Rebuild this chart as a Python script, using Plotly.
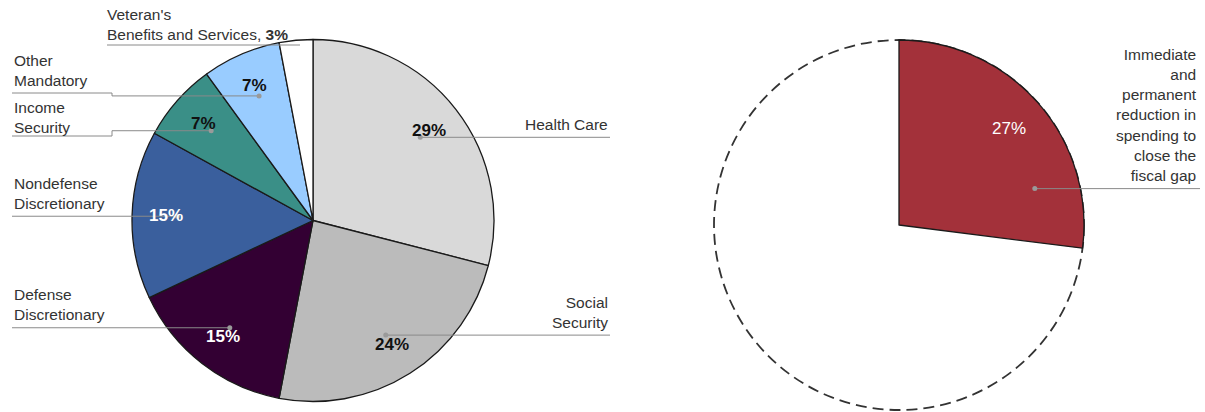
import math
import plotly.graph_objects as go

# ---------------- data ----------------
categories = ["Health Care", "Social Security", "Defense Discretionary",
              "Nondefense Discretionary", "Income Security", "Other Mandatory",
              "Veteran's Benefits and Services"]
shares = [29, 24, 15, 15, 7, 7, 3]
slice_colors = ["#D9D9D9", "#BBBBBB", "#330033", "#3A5F9D", "#3A8F87", "#99CCFF", "#FFFFFF"]
pct_text_colors = ["#111111", "#111111", "#FFFFFF", "#FFFFFF", "#111111", "#111111", None]

gap_labels = ["Immediate and permanent reduction in spending to close the fiscal gap", "Remainder"]
gap_shares = [27, 73]

W, H = 1205, 412
FONT = "Liberation Sans, Arial, sans-serif"

# pie geometry in pixels (layout)
L_CX, L_CY, L_R = 313, 220.5, 181
R_CX, R_CY, R_R = 899, 225, 185


def domain(cx, cy, r):
    return dict(x=[(cx - r) / W, (cx + r) / W], y=[(H - (cy + r)) / H, (H - (cy - r)) / H])


def polar(cx, cy, r, frac_deg):
    a = math.radians(frac_deg)
    return cx + r * math.sin(a), cy - r * math.cos(a)


def bisectors(vals):
    tot = sum(vals)
    out, c = [], 0
    for v in vals:
        out.append((c + v / 2) / tot * 360)
        c += v
    return out


fig = go.Figure()

fig.add_trace(go.Pie(
    labels=categories, values=shares, sort=False, direction="clockwise", rotation=0,
    marker=dict(colors=slice_colors, line=dict(color="#1a1a1a", width=1.3)),
    textinfo="none", hoverinfo="skip", showlegend=False,
    domain=domain(L_CX, L_CY, L_R),
))

fig.add_trace(go.Pie(
    labels=gap_labels, values=gap_shares, sort=False, direction="clockwise", rotation=0,
    marker=dict(colors=["#A3313A", "rgba(0,0,0,0)"],
                line=dict(color=["#1a1a1a", "rgba(0,0,0,0)"], width=1.3)),
    textinfo="none", hoverinfo="skip", showlegend=False,
    domain=domain(R_CX, R_CY, R_R),
))

shapes = []
annotations = []

# dashed outline of the right pie
shapes.append(dict(type="circle", xref="x", yref="y",
                   x0=R_CX - R_R, x1=R_CX + R_R, y0=R_CY - R_R, y1=R_CY + R_R,
                   line=dict(color="#333333", width=1.8, dash="11px,6px"), layer="below"))

LINE = dict(color="#8a8a8a", width=1)
DOT = "#9a9a9a"

bis = bisectors(shares)
# percentage labels
for i, (v, b) in enumerate(zip(shares, bis)):
    if pct_text_colors[i] is None:
        continue
    tx, ty = polar(L_CX, L_CY, L_R * 0.81, b)
    annotations.append(dict(x=tx, y=ty, xref="x", yref="y", text=f"<b>{v}%</b>", showarrow=False,
                            font=dict(family=FONT, size=17, color=pct_text_colors[i]),
                            xanchor="center", yanchor="middle"))

# label text per slice (layout): (text, side, anchor x, underline y or None, text offset, bend x)
label_layout = {
    0: ("Health Care", "right", 610, None, -13, None),
    1: ("Social<br>Security", "right", 610, None, -23, None),
    2: ("Defense<br>Discretionary", "left", 12, None, -23, None),
    3: ("Nondefense<br>Discretionary", "left", 12, None, -23, None),
    4: ("Income<br>Security", "left", 12, 136, -19, 112),
    5: ("Other<br>Mandatory", "left", 12, 93, -23, 112),
}

for i, (text, side, ax, under_y, dy, bend) in label_layout.items():
    dx_, dy_ = polar(L_CX, L_CY, L_R * 0.75, bis[i])
    line_y = under_y if under_y is not None else dy_
    if bend is None:
        path = f"M {ax} {line_y} L {dx_} {dy_}"
    else:
        path = f"M {ax} {line_y} L {bend} {line_y} L {bend} {dy_} L {dx_} {dy_}"
    shapes.append(dict(type="path", xref="x", yref="y", path=path, line=LINE, layer="above"))
    shapes.append(dict(type="circle", xref="x", yref="y", x0=dx_ - 2.5, x1=dx_ + 2.5,
                       y0=dy_ - 2.5, y1=dy_ + 2.5, fillcolor=DOT, line=dict(width=0), layer="above"))
    annotations.append(dict(x=ax, y=line_y + dy, xref="x", yref="y", text=text, showarrow=False,
                            font=dict(family=FONT, size=15.5, color="#333333"),
                            xanchor=side, yanchor="middle", align=side))

# Veteran's label
shapes.append(dict(type="line", xref="x", yref="y", x0=107, x1=300, y0=45, y1=45, line=LINE, layer="above"))
annotations.append(dict(x=105, y=24, xref="x", yref="y",
                        text=f"Veteran's<br>Benefits and Services, <b>{shares[6]}%</b>",
                        showarrow=False, font=dict(family=FONT, size=15.5, color="#333333"),
                        xanchor="left", yanchor="middle", align="left"))

# right pie labels
gb = bisectors(gap_shares)[0]
tx, ty = polar(R_CX, R_CY, R_R * 0.79, gb)
annotations.append(dict(x=tx, y=ty, xref="x", yref="y", text=f"{gap_shares[0]}%", showarrow=False,
                        font=dict(family=FONT, size=17, color="#FFFFFF"),
                        xanchor="center", yanchor="middle"))
rdx, rdy = polar(R_CX, R_CY, R_R * 0.76, 75)
shapes.append(dict(type="line", xref="x", yref="y", x0=rdx, x1=1200, y0=rdy, y1=rdy, line=LINE, layer="above"))
shapes.append(dict(type="circle", xref="x", yref="y", x0=rdx - 2.5, x1=rdx + 2.5,
                   y0=rdy - 2.5, y1=rdy + 2.5, fillcolor=DOT, line=dict(width=0), layer="above"))
annotations.append(dict(x=1199, y=114.5, xref="x", yref="y",
                        text="Immediate<br>and<br>permanent<br>reduction in<br>spending to<br>close the<br>fiscal gap",
                        showarrow=False, font=dict(family=FONT, size=15.5, color="#333333"),
                        xanchor="right", yanchor="middle", align="right"))

fig.update_layout(
    width=W, height=H, autosize=False,
    margin=dict(l=0, r=0, t=0, b=0, pad=0),
    paper_bgcolor="white", plot_bgcolor="rgba(0,0,0,0)",
    xaxis=dict(visible=False, range=[0, W], autorange=False, fixedrange=True, domain=[0, 1]),
    yaxis=dict(visible=False, range=[H, 0], autorange=False, fixedrange=True, domain=[0, 1]),
    shapes=shapes, annotations=annotations, showlegend=False,
)

fig.write_html("out.html")
